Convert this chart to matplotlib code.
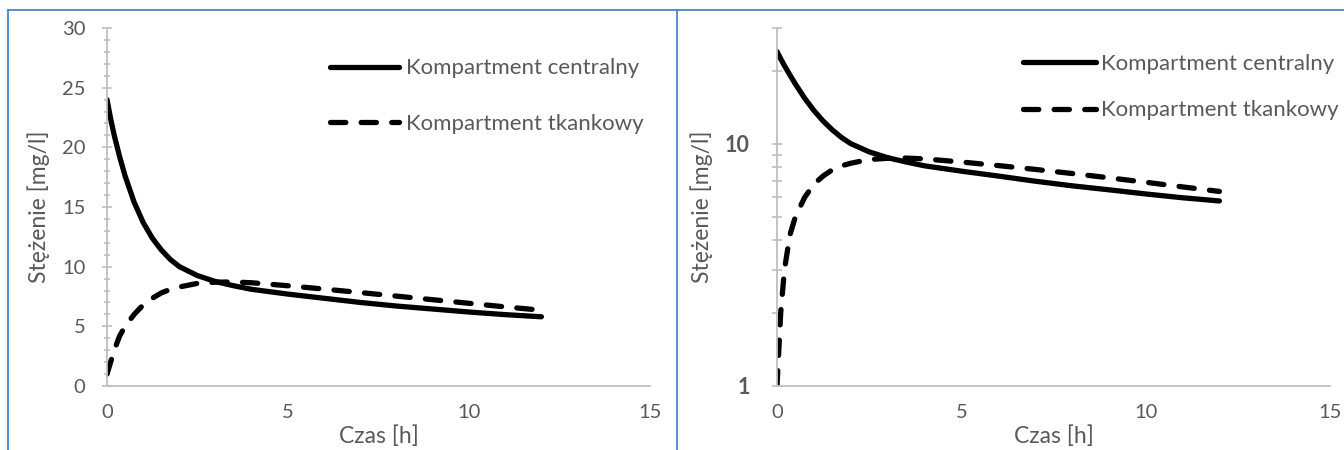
import matplotlib
matplotlib.use("Agg")
import matplotlib.pyplot as plt
from matplotlib.lines import Line2D
from matplotlib.ticker import MultipleLocator, FixedLocator, NullFormatter, FixedFormatter

plt.rcParams['font.family'] = ['Lato', 'DejaVu Sans']

czas = [0, 0.1, 0.2, 0.35, 0.5, 0.75, 1, 1.25, 1.5, 1.75, 2, 2.5, 3, 3.5, 4, 5, 6, 7, 8, 9, 10, 11, 12]
centralny = [24.0, 22.4, 21.0, 19.2, 17.6, 15.4, 13.7, 12.4, 11.4, 10.6, 10.0, 9.25, 8.75, 8.4, 8.1, 7.7, 7.35,
             7.0, 6.7, 6.45, 6.2, 5.98, 5.8]
tkankowy = [1.0, 2.0, 3.0, 4.2, 5.0, 6.0, 6.8, 7.35, 7.8, 8.1, 8.3, 8.6, 8.7, 8.72, 8.65, 8.4, 8.12, 7.83,
            7.53, 7.23, 6.93, 6.63, 6.35]
nazwy = ["Kompartment centralny", "Kompartment tkankowy"]

szary = "#595959"
os_kolor = "#bfbfbf"

fig = plt.figure(figsize=(13.44, 4.5), dpi=100)

ax1 = fig.add_axes([107/1344, 1-386/450, 543/1344, 358/450])
ax2 = fig.add_axes([777/1344, 1-386/450, 553/1344, 358/450])

for ax in (ax1, ax2):
    ax.plot(czas, centralny, color="black", lw=3.8, solid_capstyle="round", label=nazwy[0])
    ax.plot(czas, tkankowy, color="black", lw=3.8, dashes=(2.9, 2.9), dash_capstyle="round", label=nazwy[1])
    ax.set_xlim(0, 15)
    ax.xaxis.set_major_locator(MultipleLocator(5))
    for s in ("top", "right"):
        ax.spines[s].set_visible(False)
    for s in ("left", "bottom"):
        ax.spines[s].set_color(os_kolor)
        ax.spines[s].set_linewidth(1.3)
    ax.tick_params(axis="x", length=0, pad=13, labelsize=14.5, labelcolor=szary)
    ax.tick_params(axis="y", which="both", color=os_kolor, direction="inout", width=1.2, labelcolor=szary)
    ax.set_xlabel("Czas [h]", fontsize=16.5, color=szary, labelpad=3)
    ax.set_ylabel("Stężenie [mg/l]", fontsize=16.5, color=szary)

# lewy - skala liniowa
ax1.set_ylim(0, 30)
ax1.yaxis.set_major_locator(MultipleLocator(5))
ax1.yaxis.set_minor_locator(MultipleLocator(1))
ax1.tick_params(axis="y", which="major", length=7, labelsize=14.5, pad=12)
ax1.tick_params(axis="y", which="minor", length=5)
ax1.yaxis.set_label_coords(-0.105, 0.5)
ax1.legend(loc="upper left", bbox_to_anchor=(0.411, 0.915), frameon=False, fontsize=16, borderpad=0,
           borderaxespad=0, handlelength=3.1, handletextpad=0.3, labelspacing=1.6, labelcolor=szary)

# prawy - skala logarytmiczna
ax2.set_yscale("log")
ax2.set_ylim(1, 30)
ax2.yaxis.set_major_locator(FixedLocator([1, 10]))
ax2.yaxis.set_major_formatter(FixedFormatter(["1", "10"]))
ax2.yaxis.set_minor_locator(FixedLocator([2, 3, 4, 5, 6, 7, 8, 9, 20, 30]))
ax2.yaxis.set_minor_formatter(NullFormatter())
ax2.tick_params(axis="y", which="both", length=7, pad=16)
for t in ax2.get_yticklabels():
    t.set_fontweight("bold")
    t.set_fontsize(15.5)
ax2.yaxis.set_label_coords(-0.116, 0.5)
ax2.legend(loc="upper left", bbox_to_anchor=(0.445, 0.928), frameon=False, fontsize=16, borderpad=0,
           borderaxespad=0, handlelength=3.3, handletextpad=0.2, labelspacing=1.2, labelcolor=szary)

# ramki
niebieski = "#4a86c5"
fig.add_artist(Line2D([8/1344, 1], [1-10/450, 1-10/450], color=niebieski, lw=1.3))
fig.add_artist(Line2D([8/1344, 8/1344], [0, 1-10/450], color=niebieski, lw=1.3))
fig.add_artist(Line2D([677/1344, 677/1344], [0, 1-10/450], color=niebieski, lw=1.3))

fig.savefig("out.png", dpi=100)
